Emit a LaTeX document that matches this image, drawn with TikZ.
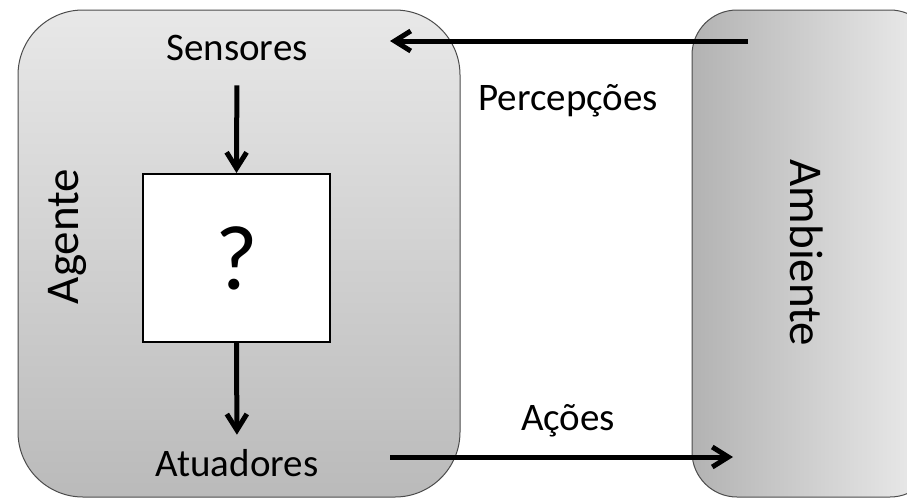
\documentclass[tikz,border=0pt]{standalone}
\usepackage{fontspec}
\setmainfont{Carlito}
\usetikzlibrary{arrows.meta}
\begin{document}
\begin{tikzpicture}[x=1pt,y=-1pt,
	flow/.style={-{Straight Barb[length=16pt,width=20pt]}, line width=5pt},
	lbl/.style={font=\fontsize{39}{45}\selectfont, inner sep=0pt, anchor=base}]
	\useasboundingbox (0,0) rectangle (907,498);
	\clip (0,0) rectangle (907,498);

	% Agent
	\node[draw=black!70, line width=1pt, rounded corners=65pt, minimum width=442pt, minimum height=487pt, top color=black!9, bottom color=black!27] (agentbox) at (239,253.5) {};

	% Environment
	\node[draw=black!70, line width=1pt, rounded corners=45pt, minimum width=243pt, minimum height=487pt, left color=black!30, right color=black!7] (envbox) at (813.5,253.5) {};

	% Labels
	\node[lbl] (sens) at (237,60) {Sensores};
	\node[lbl] (atua) at (237,476) {Atuadores};
	\node[lbl] (perc) at (568,110) {Percepções};
	\node[lbl] (acoes) at (568,430) {Ações};
	\node[lbl, font=\fontsize{47}{54}\selectfont, rotate=90] (agente) at (78,236.5) {Agente};
	\node[lbl, font=\fontsize{47}{54}\selectfont, rotate=-90] (ambiente) at (790,253) {Ambiente};

	% Agent function
	\node[draw, line width=2pt, fill=white, minimum width=187pt, minimum height=168pt, inner sep=0pt, font=\fontsize{92}{100}\selectfont] (q) at (236.5,258) {?};
	\draw[flow, shorten <=25pt] (sens.south) -- (q.north);
	\draw[flow, shorten >=14pt] (q.south) -- (atua.north);

	% Percepts and actions
	\coordinate (percfrom) at (748,41);
	\coordinate (percto) at (390,41);
	\draw[flow] (percfrom) -- (percto);
	\coordinate (acfrom) at (390,457);
	\coordinate (acto) at (733,457);
	\draw[flow] (acfrom) -- (acto);
\end{tikzpicture}
\end{document}
